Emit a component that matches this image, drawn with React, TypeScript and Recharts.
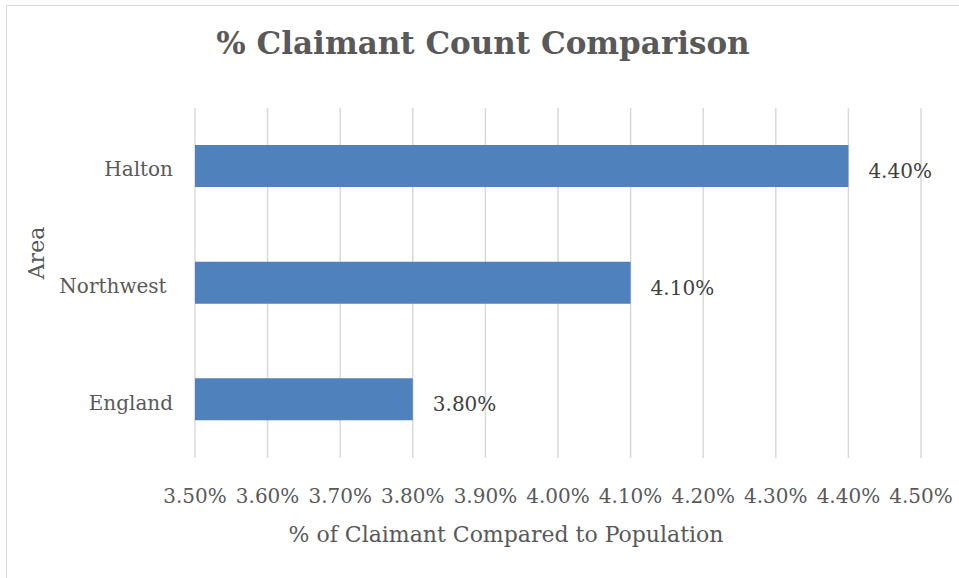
import React from 'react';
import { BarChart, Bar, XAxis, YAxis, CartesianGrid, LabelList } from 'recharts';

const areas = ['Halton', 'Northwest ', 'England'];
const claimantPct = [4.4, 4.1, 3.8];
const xTicks = [3.5, 3.6, 3.7, 3.8, 3.9, 4.0, 4.1, 4.2, 4.3, 4.4, 4.5];

const data = areas.map((area, i) => ({ area, value: claimantPct[i] }));

const FONT = '"DejaVu Serif", serif';
const GREY = '#595959';

const fmt = (v: number) => `${v.toFixed(2)}%`;

const XTick = (props: any) => {
  const { x, y, payload } = props;
  return (
    <text x={x} y={y + 45} textAnchor="middle" fontFamily={FONT} fontSize={20} fill={GREY}>
      {fmt(payload.value)}
    </text>
  );
};

const YTick = (props: any) => {
  const { y, payload } = props;
  return (
    <text
      x={173}
      y={y + 10}
      textAnchor="end"
      fontFamily={FONT}
      fontSize={20}
      fill={GREY}
      style={{ whiteSpace: 'pre' }}
    >
      {payload.value}
    </text>
  );
};

const ValueLabel = (props: any) => {
  const { x, y, width, height, value } = props;
  return (
    <text x={x + width + 20} y={y + height / 2 + 12} fontFamily={FONT} fontSize={20} fill="#404040">
      {fmt(Number(value))}
    </text>
  );
};

export default function App() {
  return (
    <div style={{ position: 'absolute', left: 0, top: 0, width: 959, height: 578, background: '#fff', overflow: 'hidden' }}>
      <div
        style={{
          position: 'absolute',
          left: 6,
          top: 5,
          width: 970,
          height: 590,
          border: '1.5px solid #d9d9d9',
        }}
      />
      <BarChart
        width={959}
        height={578}
        data={data}
        layout="vertical"
        margin={{ top: 108, right: 38, bottom: 0, left: 0 }}
      >
        <CartesianGrid horizontal={false} stroke="#d9d9d9" strokeWidth={1.5} />
        <XAxis
          type="number"
          domain={[3.5, 4.5]}
          ticks={xTicks}
          allowDataOverflow
          axisLine={false}
          tickLine={false}
          tickSize={0}
          tickMargin={0}
          height={120}
          tick={<XTick />}
          interval={0}
        />
        <YAxis
          type="category"
          dataKey="area"
          width={195}
          axisLine={false}
          tickLine={false}
          tick={<YTick />}
        />
        <Bar dataKey="value" fill="#4f81bd" barSize={42} isAnimationActive={false}>
          <LabelList dataKey="value" content={<ValueLabel />} />
        </Bar>
      </BarChart>
      <svg width={959} height={578} style={{ position: 'absolute', left: 0, top: 0, pointerEvents: 'none' }}>
        <text x={483} y={54} textAnchor="middle" fontFamily={FONT} fontWeight="bold" fontSize={31} fill={GREY}>
          % Claimant Count Comparison
        </text>
        <text x={506} y={542} textAnchor="middle" fontFamily={FONT} fontSize={22} fill={GREY}>
          % of Claimant Compared to Population
        </text>
        <text
          x={0}
          y={0}
          transform="translate(44, 253) rotate(-90)"
          textAnchor="middle"
          fontFamily={FONT}
          fontSize={22}
          fill={GREY}
        >
          Area
        </text>
      </svg>
    </div>
  );
}
